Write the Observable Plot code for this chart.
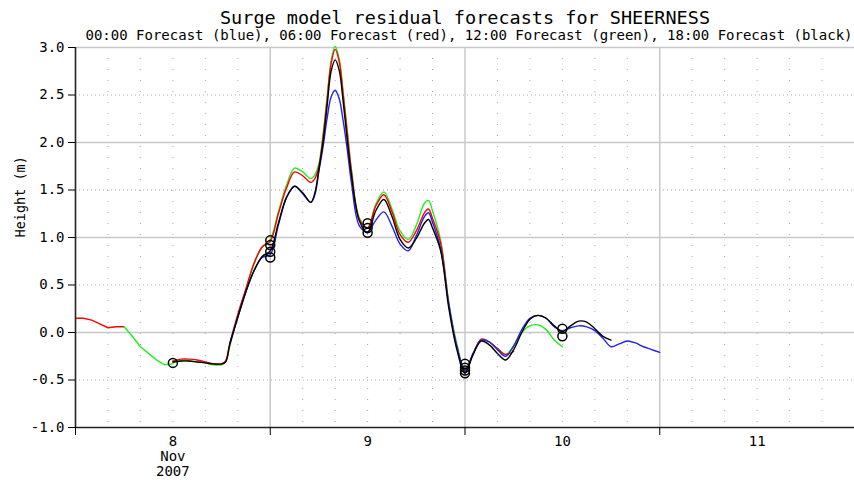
<!DOCTYPE html>
<html><head><meta charset="utf-8">
<script src="https://cdn.jsdelivr.net/npm/d3@7"></script>
<script src="https://cdn.jsdelivr.net/npm/@observablehq/plot@0.6"></script>
<style>body{margin:0;background:#fff}</style>
</head><body><div id="chart"></div>
<script>
const title = "Surge model residual forecasts for SHEERNESS";
const subtitle = "00:00 Forecast (blue), 06:00 Forecast (red), 12:00 Forecast (green), 18:00 Forecast (black)";
const yLabel = "Height (m)";
const yTicks = [-1.0, -0.5, 0.0, 0.5, 1.0, 1.5, 2.0, 2.5, 3.0];
const dayLabels = ["8\nNov\n2007", "9", "10", "11"];

// hours after 2007-11-08 00:00 UTC
const earlyRedHours = [0, 1, 2, 3, 4, 5, 6];
const earlyRed = [0.15, 0.15, 0.13, 0.09, 0.05, 0.06, 0.06];
const earlyGreenHours = [6, 7, 8, 9, 10, 11, 12];
const earlyGreen = [0.06, -0.04, -0.15, -0.22, -0.29, -0.34, -0.33];

const hours = [12,13,14,15,16,17,18,18.5,19,20,21,22,23,24,25,26,27,28,29,29.5,30,30.5,31,31.5,32,32.5,33,33.5,34,35,36,37,38,39,40,41,42,43,43.5,44,45,46,47,48,49,50,51,52,53,54,55,56,57,58,59,60,61,62,63,64,65,66,67,68,69,70,71,72];
const green = [-0.32,-0.30,-0.30,-0.31,-0.32,-0.34,-0.34,-0.31,-0.15,0.18,0.45,0.72,0.90,0.98,1.27,1.55,1.73,1.69,1.62,1.66,1.78,2.08,2.47,2.86,3.01,2.88,2.52,2.12,1.72,1.20,1.10,1.35,1.48,1.30,1.07,0.98,1.13,1.36,1.39,1.28,0.97,0.32,-0.12,-0.40,-0.22,-0.08,-0.10,-0.17,-0.23,-0.14,0.00,0.07,0.08,0.03,-0.08,-0.15,null,null,null,null,null,null,null,null,null,null,null,null];
const red = [-0.30,-0.28,-0.28,-0.29,-0.31,-0.33,-0.33,-0.30,-0.12,0.19,0.46,0.73,0.90,0.96,1.25,1.52,1.69,1.65,1.58,1.62,1.75,2.05,2.44,2.83,2.98,2.85,2.49,2.09,1.70,1.19,1.10,1.33,1.45,1.27,1.03,0.95,1.07,1.26,1.30,1.20,0.94,0.30,-0.15,-0.41,-0.23,-0.07,-0.10,-0.17,-0.23,-0.20,null,null,null,null,null,null,null,null,null,null,null,null,null,null,null,null,null,null];
const black = [-0.31,-0.30,-0.30,-0.31,-0.32,-0.33,-0.33,-0.31,-0.13,0.16,0.43,0.65,0.80,0.86,1.15,1.42,1.54,1.47,1.37,1.47,1.72,2.00,2.38,2.75,2.87,2.76,2.42,2.02,1.66,1.17,1.05,1.28,1.40,1.22,0.98,0.89,0.99,1.15,1.19,1.10,0.86,0.26,-0.18,-0.43,-0.23,-0.09,-0.13,-0.22,-0.29,-0.18,0.00,0.14,0.18,0.15,0.07,0.01,0.07,0.12,0.11,0.04,-0.04,-0.08,null,null,null,null,null,null];
const blue = [null,null,null,null,null,null,null,null,-0.12,0.16,0.43,0.65,0.79,0.82,1.13,1.42,1.54,1.46,1.37,1.45,1.70,1.95,2.25,2.48,2.55,2.46,2.22,1.92,1.58,1.12,1.06,1.18,1.27,1.12,0.93,0.86,1.02,1.22,1.26,1.16,0.88,0.30,-0.15,-0.40,-0.22,-0.08,-0.10,-0.18,-0.25,-0.14,0.03,0.15,0.18,0.15,0.06,0.02,0.05,0.07,0.06,0.02,-0.06,-0.15,-0.12,-0.09,-0.11,-0.15,-0.18,-0.21];

const circleHours = [12, 24, 24, 24, 24, 36, 36, 36, 48, 48, 48, 48, 60, 60];
const circleValues = [-0.32, 0.97, 0.92, 0.85, 0.79, 1.15, 1.10, 1.05, -0.33, -0.37, -0.40, -0.43, 0.04, -0.04];

const t0 = Date.UTC(2007, 10, 8);
const T = h => new Date(t0 + h * 3600e3);
const series = (hs, vs) => hs.map((h, i) => ({t: T(h), v: vs[i]})).filter(d => d.v != null);

const midnights = [0, 24, 48, 72].map(T);
const noons = [12, 36, 60, 84].map(T);
const fourHourly = d3.range(4, 96, 4).filter(h => h % 24 !== 0).map(T);
const circles = circleHours.map((h, i) => ({t: T(h), v: circleValues[i]}));
const font = "DejaVu Sans Mono";

const chart = Plot.plot({
  width: 854, height: 480,
  marginLeft: 75, marginRight: 0, marginTop: 47, marginBottom: 53,
  style: {fontFamily: font, fontSize: "14px", background: "#fff", color: "#000"},
  x: {type: "utc", domain: [T(0), T(96)], axis: null},
  y: {domain: [-1, 3], axis: null},
  marks: [
    Plot.ruleX(fourHourly, {stroke: "#a8a8a8", strokeDasharray: "1,10"}),
    Plot.ruleY([-0.5, 0.5, 1.5, 2.5], {stroke: "#a8a8a8", strokeDasharray: "1,3"}),
    Plot.ruleX(midnights.slice(1), {stroke: "#c8c8c8", strokeWidth: 1.5}),
    Plot.ruleY([0, 1, 2, 3], {stroke: "#c8c8c8", strokeWidth: 1.5}),
    Plot.line(series(earlyRedHours, earlyRed), {x: "t", y: "v", stroke: "#ff0000", strokeWidth: 1.4}),
    Plot.line(series(earlyGreenHours, earlyGreen), {x: "t", y: "v", stroke: "#22ee22", strokeWidth: 1.4}),
    Plot.line(series(hours, green), {x: "t", y: "v", stroke: "#22ee22", strokeWidth: 1.4, curve: "catmull-rom"}),
    Plot.line(series(hours, red), {x: "t", y: "v", stroke: "#ff0000", strokeWidth: 1.4, curve: "catmull-rom"}),
    Plot.line(series(hours, blue), {x: "t", y: "v", stroke: "#2222ee", strokeWidth: 1.4, curve: "catmull-rom"}),
    Plot.line(series(hours, black), {x: "t", y: "v", stroke: "#000000", strokeWidth: 1.4, curve: "catmull-rom"}),
    Plot.dot(circles, {x: "t", y: "v", r: 4.5, stroke: "#000", strokeWidth: 1.5, fill: "none"}),
    Plot.ruleX([T(0)], {stroke: "#222", strokeWidth: 1.6}),
    Plot.ruleY([-1], {stroke: "#222", strokeWidth: 1.6}),
    Plot.axisY({ticks: yTicks, tickFormat: d => d.toFixed(1), tickSize: 7, tickPadding: 4, fontSize: 14, label: null, anchor: "left"}),
    Plot.axisX({ticks: midnights, tickSize: 8, tickFormat: () => "", label: null, anchor: "bottom"}),
    Plot.text(noons, {x: d => d, frameAnchor: "bottom", dy: 8, lineAnchor: "top", lineHeight: 1.08, fontSize: 14, text: (d, i) => dayLabels[i]}),
    Plot.text([yLabel], {frameAnchor: "left", dx: -55, rotate: -90, fontSize: 13.5}),
    Plot.text([title], {frameAnchor: "top", dy: -29, fontSize: 18.5, lineAnchor: "middle"}),
    Plot.text([subtitle], {frameAnchor: "top", dx: 4, dy: -12, fontSize: 14, lineAnchor: "middle"})
  ]
});
document.getElementById("chart").appendChild(chart);
</script>
</body></html>
